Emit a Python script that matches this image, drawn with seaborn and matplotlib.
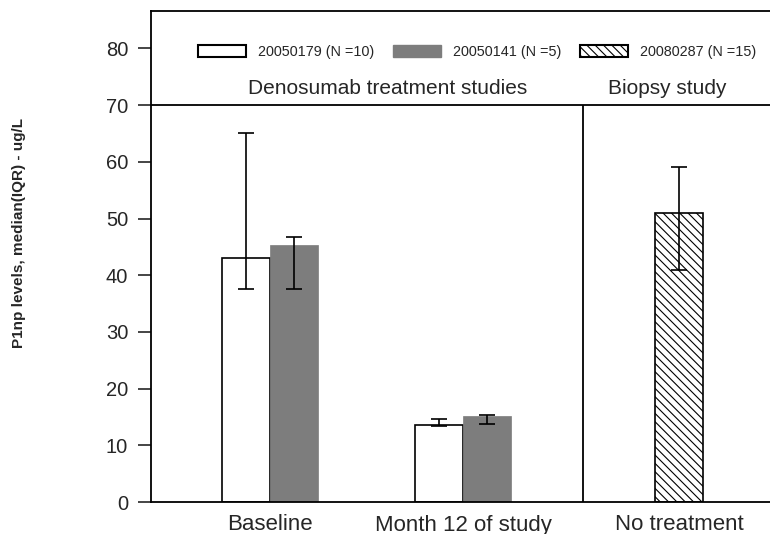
import numpy as np
import pandas as pd
import matplotlib
matplotlib.use("Agg")
import matplotlib.pyplot as plt
from matplotlib.patches import Patch
import seaborn as sns

# ---- data ----
studies = ["20050179 (N =10)", "20050141 (N =5)", "20080287 (N =15)"]
categories = ["Baseline", "Month 12 of study", "No treatment"]
cat_pos = [0.0, 1.0, 2.12]

# per-bar values (study, category)
bar_study = [studies[0], studies[1], studies[0], studies[1], studies[2]]
bar_cat = [categories[0], categories[0], categories[1], categories[1], categories[2]]
bar_offset = [-0.125, 0.125, -0.125, 0.125, 0.0]
median = [43.0, 45.3, 13.6, 15.2, 51.0]
q_low = [37.5, 37.5, 13.4, 13.7, 40.9]
q_high = [65.0, 46.8, 14.6, 15.3, 59.0]

pos = [cat_pos[categories.index(c)] + o for c, o in zip(bar_cat, bar_offset)]
df = pd.DataFrame({"pos": pos, "median": median, "study": bar_study,
                   "low": q_low, "high": q_high})

sns.set_style("ticks")
plt.rcParams["font.family"] = ["Liberation Sans", "DejaVu Sans"]
plt.rcParams["hatch.linewidth"] = 0.8

fig = plt.figure(figsize=(7.7, 5.34), dpi=100)
ax = fig.add_axes([151 / 770, 32 / 534, 619 / 770, 491 / 534])

HATCH = "\\\\\\\\"
styles = {
    studies[0]: dict(color="white", edgecolor="black", linewidth=1.2, hatch=None),
    studies[1]: dict(color="#7d7d7d", edgecolor="#7d7d7d", linewidth=0.5, hatch=None),
    studies[2]: dict(color="white", edgecolor="black", linewidth=1.2, hatch=HATCH),
}

for s in studies:
    sub = df[df["study"] == s]
    st = styles[s]
    kw = dict(data=sub, x="pos", y="median", native_scale=True, width=0.25,
              errorbar=None, color=st["color"], edgecolor=st["edgecolor"],
              linewidth=st["linewidth"], ax=ax, saturation=1)
    if st["hatch"]:
        kw["hatch"] = st["hatch"]
    sns.barplot(**kw)

med = np.array(median)
ax.errorbar(pos, med, yerr=[med - np.array(q_low), np.array(q_high) - med],
            fmt="none", ecolor="black", elinewidth=1.2, capsize=6, capthick=1.2)

xmin = -(270 - 151) / 193
xmax = (770 - 270) / 193
ax.set_xlim(xmin, xmax)
ax.set_ylim(0, 86.6)

ax.axhline(70, color="black", lw=1.3)
ax.vlines((583 - 270) / 193, 0, 70, color="black", lw=1.3)

ax.set_xticks(cat_pos)
ax.set_xticklabels(categories, fontsize=16)
ax.tick_params(axis="x", length=0, pad=9)
ax.set_yticks(np.arange(0, 81, 10))
ax.tick_params(axis="y", labelsize=14.5, length=9.5, width=1.2, direction="out", pad=7)
ax.set_xlabel("")
ax.set_ylabel("P1np levels, median(IQR) - ug/L", fontsize=11, fontweight="bold")
ax.yaxis.set_label_coords((26 - 151) / 619, (502 - 233) / 491)

for side in ["left", "bottom", "top"]:
    ax.spines[side].set_linewidth(1.3)
    ax.spines[side].set_color("black")
ax.spines["right"].set_visible(False)

ax.text(0.611, 73.0, "Denosumab treatment studies", ha="center", va="center", fontsize=15)
ax.text(2.06, 73.0, "Biopsy study", ha="center", va="center", fontsize=15)

handles = [Patch(facecolor="white", edgecolor="black", linewidth=1.5),
           Patch(facecolor="#7d7d7d", edgecolor="#7d7d7d"),
           Patch(facecolor="white", edgecolor="black", linewidth=1.5, hatch=HATCH)]
ax.legend(handles, studies, loc="center",
          bbox_to_anchor=((477.5 - 151) / 619, (502 - 52) / 491),
          bbox_transform=ax.transAxes, ncol=3, frameon=False, fontsize=10.4,
          handlelength=3.3, handleheight=0.95, handletextpad=0.85, columnspacing=1.3,
          borderpad=0)

fig.savefig("out.png", dpi=100)
